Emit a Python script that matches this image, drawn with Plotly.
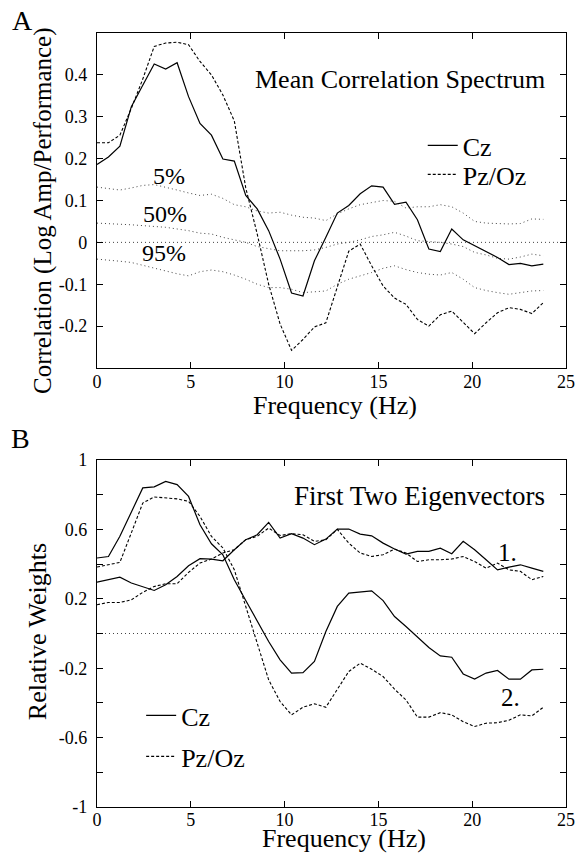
import plotly.graph_objects as go

# ---------------- data ----------------
freq = [0, 0.61, 1.22, 1.83, 2.44, 3.05, 3.66, 4.27, 4.88, 5.49, 6.1, 6.71, 7.32, 7.93,
        8.54, 9.15, 9.76, 10.37, 10.98, 11.59, 12.2, 12.81, 13.42, 14.03, 14.64, 15.25,
        15.86, 16.47, 17.08, 17.69, 18.3, 18.91, 19.52, 20.13, 20.74, 21.35, 21.96,
        22.57, 23.18, 23.79]

# Panel A: mean correlation spectrum
corr_cz = [0.186, 0.204, 0.23, 0.324, 0.375, 0.426, 0.414, 0.429, 0.348, 0.284, 0.256,
           0.199, 0.194, 0.112, 0.08, 0.028, -0.04, -0.121, -0.128, -0.044, 0.012, 0.07,
           0.088, 0.116, 0.135, 0.132, 0.091, 0.096, 0.054, -0.016, -0.022, 0.032, 0.006,
           -0.008, -0.024, -0.036, -0.053, -0.05, -0.056, -0.052]
corr_pz = [0.238, 0.238, 0.256, 0.32, 0.39, 0.468, 0.476, 0.478, 0.472, 0.432, 0.40,
           0.352, 0.29, 0.13, 0.02, -0.10, -0.195, -0.258, -0.232, -0.202, -0.192, -0.108,
           -0.021, -0.004, -0.056, -0.104, -0.133, -0.148, -0.184, -0.2, -0.173, -0.164,
           -0.192, -0.218, -0.192, -0.168, -0.156, -0.16, -0.17, -0.144]
pct_5 = [0.132, 0.128, 0.125, 0.13, 0.136, 0.138, 0.132, 0.125, 0.118, 0.112, 0.115,
         0.105, 0.09, 0.085, 0.075, 0.07, 0.072, 0.065, 0.06, 0.058, 0.052, 0.068, 0.08,
         0.09, 0.095, 0.1, 0.098, 0.082, 0.085, 0.085, 0.09, 0.085, 0.07, 0.05, 0.046,
         0.045, 0.044, 0.045, 0.056, 0.055]
pct_50 = [0.046, 0.045, 0.043, 0.042, 0.04, 0.038, 0.036, 0.032, 0.028, 0.022, 0.02,
          0.012, 0.006, 0.0, -0.01, -0.015, -0.02, -0.02, -0.02, -0.018, -0.012, -0.004,
          0.0, 0.006, 0.014, 0.018, 0.024, 0.015, 0.004, 0.002, 0.0, -0.004, -0.01,
          -0.024, -0.03, -0.038, -0.04, -0.035, -0.028, -0.032]
pct_95 = [-0.04, -0.042, -0.045, -0.048, -0.055, -0.062, -0.068, -0.075, -0.08, -0.07,
          -0.066, -0.07, -0.078, -0.088, -0.1, -0.108, -0.108, -0.112, -0.12, -0.118,
          -0.116, -0.1, -0.088, -0.08, -0.072, -0.062, -0.056, -0.065, -0.072, -0.076,
          -0.078, -0.072, -0.088, -0.108, -0.115, -0.12, -0.124, -0.12, -0.116, -0.115]

# Panel B: first two eigenvectors
ev1_cz = [0.296, 0.31, 0.325, 0.291, 0.271, 0.248, 0.281, 0.329, 0.39, 0.431, 0.429,
          0.419, 0.483, 0.541, 0.569, 0.64, 0.55, 0.575, 0.55, 0.512, 0.544, 0.602, 0.602,
          0.573, 0.563, 0.521, 0.487, 0.458, 0.473, 0.473, 0.492, 0.46, 0.531, 0.483,
          0.425, 0.367, 0.383, 0.396, 0.377, 0.358]
ev1_pz = [0.166, 0.179, 0.179, 0.194, 0.237, 0.271, 0.287, 0.287, 0.352, 0.406, 0.429,
          0.464, 0.483, 0.541, 0.56, 0.608, 0.565, 0.575, 0.569, 0.531, 0.54, 0.6, 0.521,
          0.464, 0.444, 0.454, 0.487, 0.464, 0.415, 0.425, 0.425, 0.429, 0.444, 0.415,
          0.377, 0.406, 0.367, 0.358, 0.31, 0.329]
ev2_cz = [0.435, 0.444, 0.56, 0.704, 0.839, 0.845, 0.877, 0.858, 0.79, 0.627, 0.517,
          0.454, 0.31, 0.19, 0.07, -0.046, -0.152, -0.228, -0.226, -0.161, 0.012, 0.156,
          0.233, 0.24, 0.246, 0.19, 0.098, 0.04, -0.021, -0.081, -0.129, -0.137, -0.233,
          -0.263, -0.228, -0.213, -0.263, -0.263, -0.21, -0.206]
ev2_pz = [0.383, 0.396, 0.41, 0.58, 0.752, 0.787, 0.781, 0.776, 0.762, 0.675, 0.56,
          0.493, 0.367, 0.16, -0.055, -0.267, -0.392, -0.469, -0.425, -0.405, -0.425,
          -0.325, -0.219, -0.171, -0.206, -0.248, -0.321, -0.383, -0.482, -0.482, -0.456,
          -0.469, -0.508, -0.536, -0.517, -0.514, -0.5, -0.469, -0.475, -0.425]

ytick_a = [-0.2, -0.1, 0, 0.1, 0.2, 0.3, 0.4]
ytext_a = ["-0.2", "-0.1", "0", "0.1", "0.2", "0.3", "0.4"]
ytick_b = [-1, -0.8, -0.6, -0.4, -0.2, 0, 0.2, 0.4, 0.6, 0.8, 1]
ytext_b = ["-1", "", "-0.6", "", "-0.2", "", "0.2", "", "0.6", "", "1"]
xtick = [0, 5, 10, 15, 20, 25]

# ---------------- style ----------------
FONT = "'Liberation Serif', 'Times New Roman', 'DejaVu Serif', serif"
W, H = 585, 856
ML, MR, MT, MB = 97, 10, 33, 49
PW, PH = W - ML - MR, H - MT - MB


def px(xp):
    return (xp - ML) / PW


def py(yp):
    return (H - MB - yp) / PH


solid = dict(color="black", width=1.2)
dashed = dict(color="black", width=1.1, dash="3px,2px")
dotted = dict(color="#444444", width=1, dash="1px,3px")

fig = go.Figure()

# Panel A traces
for vals in (pct_5, pct_50, pct_95):
    fig.add_trace(go.Scatter(x=freq, y=vals, mode="lines", line=dotted,
                             showlegend=False, xaxis="x", yaxis="y", hoverinfo="skip"))
fig.add_trace(go.Scatter(x=freq, y=corr_cz, mode="lines", line=solid, name="Cz",
                         legend="legend", xaxis="x", yaxis="y"))
fig.add_trace(go.Scatter(x=freq, y=corr_pz, mode="lines", line=dashed, name="Pz/Oz",
                         legend="legend3", xaxis="x", yaxis="y"))

# Panel B traces
fig.add_trace(go.Scatter(x=freq, y=ev1_cz, mode="lines", line=solid, name="Cz",
                         legend="legend2", legendgroup="b_cz", xaxis="x2", yaxis="y2"))
fig.add_trace(go.Scatter(x=freq, y=ev2_cz, mode="lines", line=solid, name="Cz",
                         legend="legend2", legendgroup="b_cz", showlegend=False,
                         xaxis="x2", yaxis="y2"))
fig.add_trace(go.Scatter(x=freq, y=ev1_pz, mode="lines", line=dashed, name="Pz/Oz",
                         legend="legend4", legendgroup="b_pz", xaxis="x2", yaxis="y2"))
fig.add_trace(go.Scatter(x=freq, y=ev2_pz, mode="lines", line=dashed, name="Pz/Oz",
                         legend="legend4", legendgroup="b_pz", showlegend=False,
                         xaxis="x2", yaxis="y2"))

# zero reference lines
fig.add_shape(type="line", xref="x domain", yref="y", x0=0, x1=1, y0=0, y1=0,
              line=dotted, layer="below")
fig.add_shape(type="line", xref="x2 domain", yref="y2", x0=0, x1=1, y0=0, y1=0,
              line=dotted, layer="below")

axis_common = dict(showline=True, linecolor="black", linewidth=1.3, mirror="ticks",
                   ticks="inside", ticklen=6, tickcolor="black", tickwidth=1.1,
                   showgrid=False, zeroline=False,
                   tickfont=dict(family=FONT, size=18, color="black"))


def legend_at(xp, yp):
    return dict(x=px(xp), y=py(yp), xanchor="left", yanchor="top",
                bgcolor="rgba(0,0,0,0)", borderwidth=0, tracegroupgap=0,
                font=dict(family=FONT, size=26, color="black"))


fig.update_layout(
    width=W, height=H,
    margin=dict(l=ML, r=MR, t=MT, b=MB, pad=0),
    paper_bgcolor="white", plot_bgcolor="white",
    font=dict(family=FONT, color="black"),
    xaxis=dict(domain=[0, 1], anchor="y", range=[0, 25], tickvals=xtick,
               ticklabelstandoff=-3, **axis_common),
    yaxis=dict(domain=[py(368), 1], anchor="x", range=[-0.3, 0.5], tickvals=ytick_a,
               ticktext=ytext_a, ticklabelstandoff=5, **axis_common),
    xaxis2=dict(domain=[0, 1], anchor="y2", range=[0, 25], tickvals=xtick,
                ticklabelstandoff=-4, **axis_common),
    yaxis2=dict(domain=[0, py(460)], anchor="x2", range=[-1, 1], tickvals=ytick_b,
                ticktext=ytext_b, ticklabelstandoff=5, **axis_common),
    legend=legend_at(429, 122),
    legend3=legend_at(429, 151),
    legend2=legend_at(142, 692),
    legend4=legend_at(142, 733),
)


def note(text, x, y, size, angle=0):
    fig.add_annotation(text=text, x=px(x), y=py(y), xref="paper", yref="paper",
                       xanchor="center", yanchor="middle", showarrow=False,
                       textangle=angle, font=dict(family=FONT, size=size, color="black"))


note("A", 21, 20, 28)
note("B", 19, 438, 28)
note("Mean Correlation Spectrum", 406, 80, 26)
note("5%", 170, 176, 24)
note("50%", 166, 214, 24)
note("95%", 165, 253, 24)
note("Frequency (Hz)", 340, 405, 26)
note("Correlation (Log Amp/Performance)", 42, 211, 25, -90)
note("First Two Eigenvectors", 426, 496, 27)
note("1.", 515, 552, 25)
note("2.", 518, 697, 25)
note("Frequency (Hz)", 349, 838, 26)
note("Relative Weights", 36, 632, 26, -90)

fig.write_html("out.html", config={"displayModeBar": False},
               post_script="document.body.style.margin='0';document.body.style.padding='0';")
